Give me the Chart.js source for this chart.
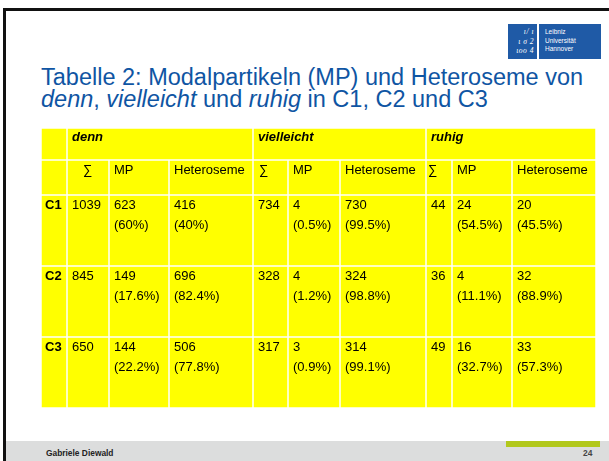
<!DOCTYPE html>
<html lang="de">
<head>
<meta charset="utf-8">
<title>Tabelle 2: Modalpartikeln und Heteroseme</title>
<script src="https://cdn.jsdelivr.net/npm/chart.js@4.4.1/dist/chart.umd.min.js"></script>
<style>
    html, body { margin: 0; padding: 0; background: #fff; }
    body { width: 609px; height: 461px; overflow: hidden; position: relative;
           font-family: "Liberation Sans", Arial, sans-serif; }

    /* slide frame */
    .frame-top  { position: absolute; left: 3px; top: 8px; width: 606px; height: 3px; background: #111; }
    .frame-left { position: absolute; left: 3px; top: 8px; width: 3px; height: 453px; background: #111; }

    /* university logo */
    .logo-mark { position: absolute; left: 508px; top: 24px; width: 29px; height: 35px; background: #1f5aa6;
                 color: #fff; font: italic 7.5px/9.5px "Liberation Serif", serif; text-align: right;
                 box-sizing: border-box; padding: 3px 3px 0 0; letter-spacing: 0.5px; }
    .logo-text { position: absolute; left: 539px; top: 24px; width: 62px; height: 35px; background: #1f5aa6;
                 color: #fff; font: 6.5px/8.5px "Liberation Sans", Arial, sans-serif;
                 box-sizing: border-box; padding: 4px 0 0 6px; }

    .title { position: absolute; left: 41px; top: 66px; color: #0f55a3;
             font-size: 23.5px; line-height: 22px; white-space: nowrap; }

    #table-wrap { position: absolute; left: 41px; top: 128px; width: 555px; height: 280px; }

    /* footer */
    .footer { position: absolute; left: 6px; top: 441px; width: 603px; height: 20px; background: #dcdddd; }
    .footer-bar { position: absolute; left: 506px; top: 441px; width: 94px; height: 6px; background: #b2c81c; }
    .footer-name { position: absolute; left: 46px; top: 448px; font: bold 8.4px/10px "Liberation Sans", Arial, sans-serif; color: #222; }
    .footer-page { position: absolute; left: 583px; top: 448px; font: bold 8.4px/10px "Liberation Sans", Arial, sans-serif; color: #444; }
</style>
</head>
<body>
<div class="frame-top"></div>
<div class="frame-left"></div>

<div class="logo-mark">ı/ ı<br>ι σ 2<br>ιοο 4</div>
<div class="logo-text">Leibniz<br>Universität<br>Hannover</div>

<div class="title">
    <div>Tabelle 2: Modalpartikeln (MP) und Heteroseme von</div>
    <div><i>denn</i>, <i>vielleicht</i> und <i>ruhig</i> in C1, C2 und C3</div>
</div>

<div id="table-wrap"><canvas id="table-chart" width="555" height="280"></canvas></div>

<div class="footer"></div>
<div class="footer-bar"></div>
<div class="footer-name">Gabriele Diewald</div>
<div class="footer-page">24</div>

<script>
// ── Data ─────────────────────────────────────────────────────────
const particles   = ['denn', 'vielleicht', 'ruhig'];
const subHeaders  = ['∑', 'MP', 'Heteroseme'];
const corpora     = ['C1', 'C2', 'C3'];

// one row per corpus, one value per particle
const totalCounts = [[1039, 734, 44], [845, 328, 36], [650, 317, 49]];
const mpCounts    = [[623, 4, 24],    [149, 4, 4],    [144, 3, 16]];
const mpShares    = [[60, 0.5, 54.5], [17.6, 1.2, 11.1], [22.2, 0.9, 32.7]];
const hetCounts   = [[416, 730, 20],  [696, 324, 32], [506, 314, 33]];
const hetShares   = [[40, 99.5, 45.5], [82.4, 98.8, 88.9], [77.8, 99.1, 57.3]];

// ── Layout (table geometry in scale units) ──────────────────────
const colWidths  = [26, 42, 60, 84, 35, 52, 86, 26, 60, 84];
const rowHeights = [32, 35, 71, 71, 71];
const sumOffsets = [16, 6, 2];   // the ∑ signs sit differently in each block

const YELLOW = '#ffff00';
const GAP    = 0.75;
const FONT   = '"Liberation Sans", Arial, sans-serif';

const colEdges = colWidths.reduce((a, w) => (a.push(a[a.length - 1] + w), a), [0]);
const rowEdges = rowHeights.reduce((a, h) => (a.push(a[a.length - 1] + h), a), [0]);

// ── Build the cell list ─────────────────────────────────────────
const cells = [];
cells.push({ row: 0, col: 0, span: 1, lines: [] });
particles.forEach((p, g) => {
    cells.push({ row: 0, col: 1 + g * 3, span: 3, lines: [p], style: 'italic bold' });
});
cells.push({ row: 1, col: 0, span: 1, lines: [] });
particles.forEach((p, g) => {
    subHeaders.forEach((h, k) => {
        cells.push({ row: 1, col: 1 + g * 3 + k, span: 1, lines: [h],
                     pad: k === 0 ? sumOffsets[g] : 5 });
    });
});
corpora.forEach((c, r) => {
    cells.push({ row: 2 + r, col: 0, span: 1, lines: [c], style: 'bold', pad: 4 });
    particles.forEach((p, g) => {
        cells.push({ row: 2 + r, col: 1 + g * 3, span: 1, lines: [String(totalCounts[r][g])] });
        cells.push({ row: 2 + r, col: 2 + g * 3, span: 1,
                     lines: [String(mpCounts[r][g]), `(${mpShares[r][g]}%)`] });
        cells.push({ row: 2 + r, col: 3 + g * 3, span: 1,
                     lines: [String(hetCounts[r][g]), `(${hetShares[r][g]}%)`] });
    });
});

// ── Plugin: paint cells through the chart scales ────────────────
const tableCells = {
    id: 'tableCells',
    beforeDatasetsDraw(chart) {
        const { ctx, scales: { x, y } } = chart;
        ctx.save();
        cells.forEach(cell => {
            const x0 = x.getPixelForValue(colEdges[cell.col]);
            const x1 = x.getPixelForValue(colEdges[cell.col + cell.span]);
            const y0 = y.getPixelForValue(rowEdges[cell.row]);
            const y1 = y.getPixelForValue(rowEdges[cell.row + 1]);

            ctx.fillStyle = YELLOW;
            ctx.fillRect(x0 + GAP, y0 + GAP, x1 - x0 - 2 * GAP, y1 - y0 - 2 * GAP);

            ctx.fillStyle = '#000';
            ctx.font = `${cell.style || ''} 13px ${FONT}`;
            ctx.textBaseline = 'alphabetic';
            ctx.textAlign = 'left';
            const pad = cell.pad !== undefined ? cell.pad : 5;
            const base = cell.row === 0 ? 12.5 : 13.5;
            cell.lines.forEach((line, i) => {
                ctx.fillText(line, x0 + pad, y0 + base + i * 20);
            });
        });
        ctx.restore();
    }
};

new Chart(document.getElementById('table-chart'), {
    type: 'scatter',
    data: { datasets: [{ data: [], pointRadius: 0 }] },
    options: {
        responsive: false,
        animation: false,
        devicePixelRatio: 1,
        layout: { padding: 0 },
        plugins: { legend: { display: false }, tooltip: { enabled: false } },
        scales: {
            x: { type: 'linear', min: 0, max: colEdges[colEdges.length - 1], display: false },
            y: { type: 'linear', min: 0, max: rowEdges[rowEdges.length - 1], reverse: true, display: false }
        }
    },
    plugins: [tableCells]
});
</script>
</body>
</html>
